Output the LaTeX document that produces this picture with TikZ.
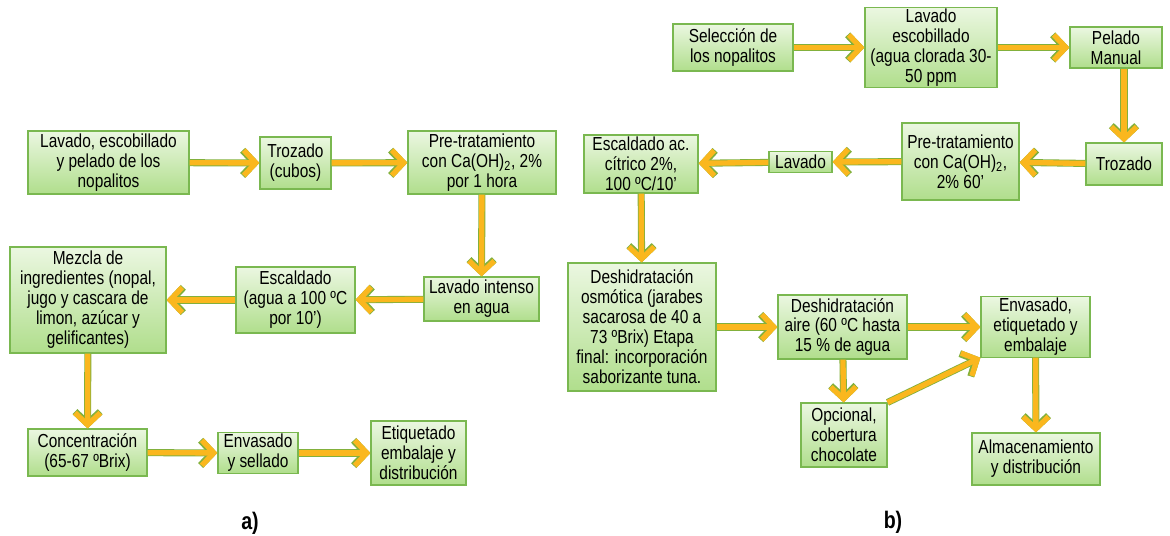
\documentclass[tikz,border=0pt]{standalone}
\usepackage{fontspec}
\setmainfont{Liberation Sans}[FakeStretch=0.82]
\usepackage{tikz}
\usetikzlibrary{arrows.meta}
\definecolor{BoxTop}{RGB}{235,247,225}
\definecolor{BoxBottom}{RGB}{176,222,140}
\definecolor{BoxEdge}{RGB}{122,184,80}
\definecolor{FlowOrange}{RGB}{250,183,30}
\definecolor{FlowEdge}{RGB}{130,176,60}

\tikzset{
  stage/.style 2 args={draw=BoxEdge, line width=0.8pt, top color=BoxTop, bottom color=BoxBottom,
    minimum width=#1*0.025cm, minimum height=#2*0.025cm, inner sep=1pt, align=center},
  flow/.style={-{Straight Barb[length=8.5pt,width=18pt]}, line width=3.8pt, draw=FlowOrange,
    preaction={draw=FlowEdge, line width=5pt, -{Straight Barb[length=8.5pt,width=18pt]}}},
  panel/.style={font=\fontsize{17}{20}\selectfont\bfseries},
}

\begin{document}
\begin{tikzpicture}[
  x=0.025cm, y=-0.025cm,
  font=\fontsize{13.4}{14.2}\selectfont,
]
\useasboundingbox (0,0) rectangle (1170,535);

% a) nopal jam
\node[stage={161}{63}]  (a1) at (108.5,162.5) {Lavado, escobillado\\y pelado de los\\nopalitos};
\node[stage={71}{52}]   (a2) at (295.5,163)   {Trozado\\(cubos)};
\node[stage={148}{63}]  (a3) at (482,162.5)   {Pre-tratamiento\\con Ca(OH)\textsubscript{2}, 2\%\\por 1 hora};
\node[stage={115}{44}]  (a4) at (481.5,299)   {Lavado intenso\\en agua};
\node[stage={119}{66}]  (a5) at (295.5,300)   {Escaldado\\(agua a 100 ºC\\por 10')};
\node[stage={156}{106}] (a6) at (88,300)      {Mezcla de\\ingredientes (nopal,\\jugo y cascara de\\limon, azúcar y\\gelificantes)};
\node[stage={119}{47}]  (a7) at (87.5,452.5)  {Concentración\\(65-67 ºBrix)};
\node[stage={80}{40}]   (a8) at (258,453)     {Envasado\\y sellado};
\node[stage={95}{64}]   (a9) at (418.5,453)   {Etiquetado\\embalaje y\\distribución};
\node[panel] (la) at (250,523) {a)};

\draw[flow] (a1) -- (a2);
\draw[flow] (a2) -- (a3);
\draw[flow] (a3) -- (a4);
\draw[flow] (a4) -- (a5);
\draw[flow] (a5) -- (a6);
\draw[flow] (a6) -- (a7);
\draw[flow] (a7) -- (a8);
\draw[flow] (a8) -- (a9);

% b) dehydrated nopal
\node[stage={120}{47}]  (b1)  at (733,47.5)   {Selección de\\los nopalitos};
\node[stage={132}{77}]  (b2)  at (931,47.5)   {Lavado\\escobillado\\(agua clorada 30-\\50 ppm};
\node[stage={92}{41}]   (b3)  at (1116,47.5)  {Pelado\\Manual};
\node[stage={76}{42}]   (b4)  at (1124,164)   {Trozado};
\node[stage={117}{77}]  (b5)  at (960.5,161.5) {Pre-tratamiento\\con Ca(OH)\textsubscript{2},\\2\% 60'};
\node[stage={63}{21}]   (b6)  at (800.5,162)  {Lavado};
\node[stage={114}{58}]  (b7)  at (641,164)    {Escaldado ac.\\cítrico 2\%,\\100 ºC/10'};
\node[stage={148}{128}] (b8)  at (642,327)    {Deshidratación\\osmótica (jarabes\\sacarosa de 40 a\\73 ºBrix) Etapa\\final: incorporación\\saborizante tuna.};
\node[stage={129}{64}]  (b9)  at (842.5,327)  {Deshidratación\\aire (60 ºC hasta\\15 \% de agua};
\node[stage={109}{60}]  (b10) at (1035.5,327) {Envasado,\\etiquetado y\\embalaje};
\node[stage={86}{64}]   (b11) at (844,435)    {Opcional,\\cobertura\\chocolate};
\node[stage={128}{52}]  (b12) at (1036,459)   {Almacenamiento\\y distribución};
\node[panel] (lb) at (893,522) {b)};

\draw[flow] (b1) -- (b2);
\draw[flow] (b2) -- (b3);
\draw[flow] (b3.south -| b4) -- (b4);
\draw[flow] (b4) -- (b5);
\draw[flow] (b5) -- (b6);
\draw[flow] (b6) -- (b7);
\draw[flow] (b7) -- (b8);
\draw[flow] (b8) -- (b9);
\draw[flow] (b9) -- (b10);
\draw[flow] (b9) -- (b11);
\draw[flow] (b11.north east) -- (b10.south west);
\draw[flow] (b10) -- (b12);

\end{tikzpicture}
\end{document}
